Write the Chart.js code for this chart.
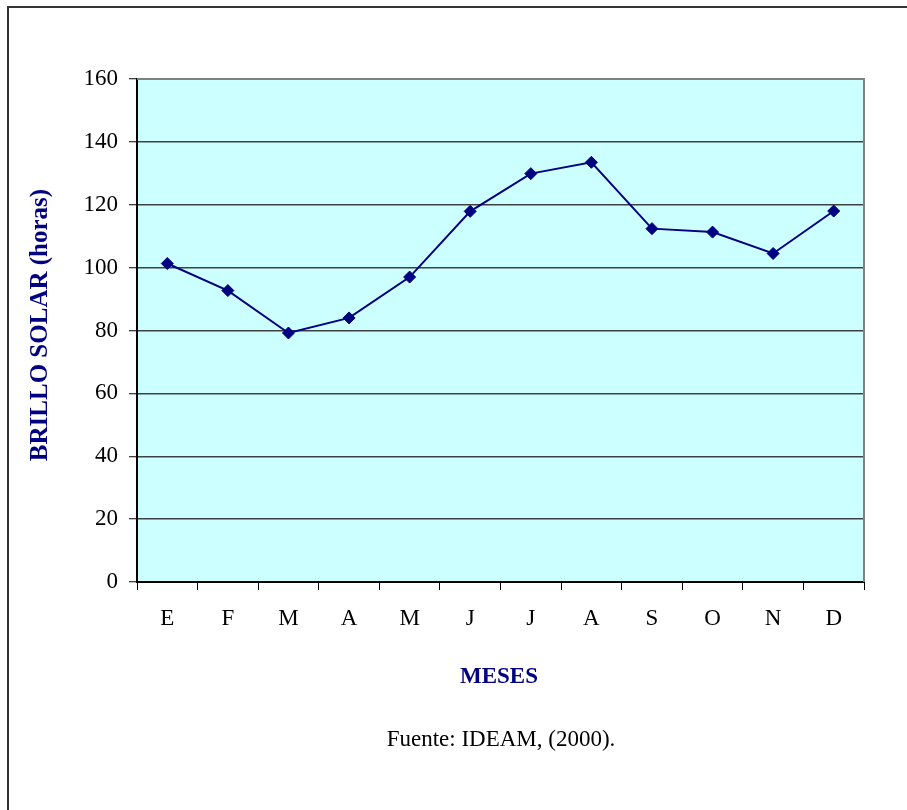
<!DOCTYPE html>
<html lang="es">
<head>
    <meta charset="UTF-8">
    <title>Brillo solar mensual</title>
    <script src="https://cdn.jsdelivr.net/npm/chart.js"></script>
    <style>
        html, body { margin: 0; padding: 0; background: #fff; }
        .chart-container { width: 907px; height: 810px; }
    </style>
</head>
<body>
    <div class="chart-container">
        <canvas id="brilloChart"></canvas>
    </div>
    <script>
        const meses = ['E', 'F', 'M', 'A', 'M', 'J', 'J', 'A', 'S', 'O', 'N', 'D'];
        const brilloSolar = [101.3, 92.7, 79.2, 84.0, 97.0, 117.9, 129.9, 133.5, 112.4, 111.3, 104.5, 118.0];
        const yTicks = [0, 20, 40, 60, 80, 100, 120, 140, 160];

        const tituloY = 'BRILLO SOLAR (horas)';
        const tituloX = 'MESES';
        const fuente = 'Fuente: IDEAM, (2000).';

        const serif = "'Liberation Serif', 'Times New Roman', serif";
        const navy = '#000080';

        // fondo celeste del area de trazado, marco y textos externos
        const marco = {
            id: 'marco',
            beforeDraw(chart) {
                const { ctx, chartArea: a } = chart;
                ctx.save();
                ctx.fillStyle = '#ccffff';
                ctx.fillRect(a.left, a.top, a.right - a.left, a.bottom - a.top);
                ctx.restore();
            },
            beforeDatasetsDraw(chart) {
                const { ctx, chartArea: a } = chart;
                ctx.save();
                ctx.strokeStyle = '#808080';
                ctx.lineWidth = 2;
                ctx.beginPath();
                ctx.moveTo(a.left, a.top);
                ctx.lineTo(a.right, a.top);
                ctx.lineTo(a.right, a.bottom);
                ctx.stroke();
                ctx.restore();
            },
            afterDraw(chart) {
                const { ctx } = chart;
                ctx.save();
                // borde exterior (solo izquierda y arriba)
                ctx.strokeStyle = '#333';
                ctx.lineWidth = 2;
                ctx.beginPath();
                ctx.moveTo(8, 810);
                ctx.lineTo(8, 7);
                ctx.lineTo(907, 7);
                ctx.stroke();

                ctx.textAlign = 'center';
                ctx.textBaseline = 'middle';

                // titulo eje Y
                ctx.fillStyle = navy;
                ctx.font = 'bold 25px ' + serif;
                ctx.translate(41, 325);
                ctx.rotate(-Math.PI / 2);
                ctx.fillText(tituloY, 0, 0);
                ctx.setTransform(1, 0, 0, 1, 0, 0);

                // titulo eje X
                ctx.font = 'bold 23px ' + serif;
                ctx.fillText(tituloX, 499, 677);

                // fuente
                ctx.fillStyle = '#000';
                ctx.font = '23px ' + serif;
                ctx.fillText(fuente, 501, 740);
                ctx.restore();
            }
        };

        const ctx = document.getElementById('brilloChart').getContext('2d');
        const chart = new Chart(ctx, {
            type: 'line',
            data: {
                labels: meses,
                datasets: [{
                    label: 'Brillo solar',
                    data: brilloSolar,
                    borderColor: navy,
                    backgroundColor: navy,
                    borderWidth: 2,
                    pointStyle: 'rectRot',
                    pointRadius: 6,
                    pointBorderWidth: 1,
                    pointBackgroundColor: navy,
                    pointBorderColor: navy,
                    tension: 0,
                    fill: false
                }]
            },
            options: {
                responsive: true,
                maintainAspectRatio: false,
                animation: false,
                layout: {
                    padding: { left: 0, top: 79, right: 43, bottom: 0 }
                },
                plugins: {
                    legend: { display: false },
                    tooltip: { enabled: false }
                },
                scales: {
                    x: {
                        type: 'category',
                        offset: true,
                        afterFit(scale) { scale.height = 228; },
                        grid: {
                            offset: true,
                            drawOnChartArea: false,
                            drawTicks: true,
                            tickLength: 8,
                            color: '#000',
                            lineWidth: 1
                        },
                        border: { display: true, color: '#000', width: 2 },
                        ticks: {
                            color: '#000',
                            padding: 15,
                            maxRotation: 0,
                            autoSkip: false,
                            font: { family: serif, size: 23 }
                        }
                    },
                    y: {
                        min: 0,
                        max: 160,
                        afterFit(scale) { scale.width = 137; },
                        afterBuildTicks(scale) {
                            scale.ticks = yTicks.map(v => ({ value: v }));
                        },
                        grid: {
                            color: '#404040',
                            lineWidth: 1.5,
                            tickLength: 8,
                            tickColor: '#000',
                            tickWidth: 1
                        },
                        border: { display: true, color: '#000', width: 2 },
                        ticks: {
                            color: '#000',
                            padding: 11,
                            font: { family: serif, size: 23 }
                        }
                    }
                }
            },
            plugins: [marco]
        });
    </script>
</body>
</html>
